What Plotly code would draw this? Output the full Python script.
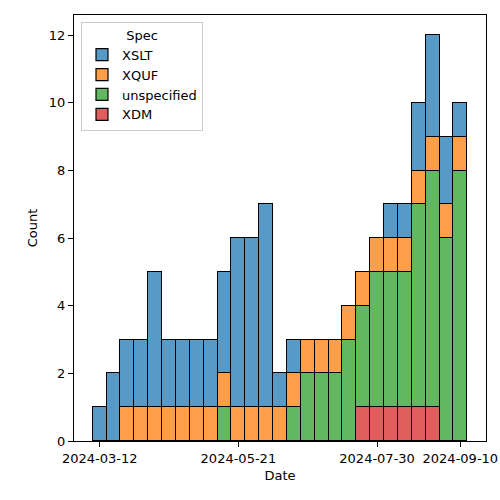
import datetime as dt
import plotly.graph_objects as go

weeks = ["2024-03-12", "2024-03-19", "2024-03-26", "2024-04-02", "2024-04-09", "2024-04-16",
         "2024-04-23", "2024-04-30", "2024-05-07", "2024-05-14", "2024-05-21", "2024-05-28",
         "2024-06-04", "2024-06-11", "2024-06-18", "2024-06-25", "2024-07-02", "2024-07-09",
         "2024-07-16", "2024-07-23", "2024-07-30", "2024-08-06", "2024-08-13", "2024-08-20",
         "2024-08-27", "2024-09-03", "2024-09-10"]
xslt = [1, 2, 2, 2, 4, 2, 2, 2, 2, 3, 5, 5, 6, 1, 1, 0, 0, 0, 0, 0, 0, 1, 1, 2, 3, 2, 1]
xquf = [0, 0, 1, 1, 1, 1, 1, 1, 1, 1, 1, 1, 1, 1, 1, 1, 1, 1, 1, 1, 1, 1, 1, 1, 1, 1, 1]
unspecified = [0, 0, 0, 0, 0, 0, 0, 0, 0, 1, 0, 0, 0, 0, 1, 2, 2, 2, 3, 3, 4, 4, 4, 6, 7, 6, 8]
xdm = [0, 0, 0, 0, 0, 0, 0, 0, 0, 0, 0, 0, 0, 0, 0, 0, 0, 0, 0, 1, 1, 1, 1, 1, 1, 0, 0]
tick_labels = ["2024-03-12", "2024-05-21", "2024-07-30", "2024-09-10"]

series = [("XDM", xdm, "#e05d5e"), ("unspecified", unspecified, "#61b861"),
          ("XQUF", xquf, "#ff9f4a"), ("XSLT", xslt, "#5799c7")]
rank = {"XSLT": 1, "XQUF": 2, "unspecified": 3, "XDM": 4}

week_ms = 7 * 24 * 3600 * 1000
fig = go.Figure()
for name, vals, col in series:
    fig.add_trace(go.Bar(
        x=weeks, y=[v if v else None for v in vals], name=name,
        width=[week_ms] * len(weeks),
        marker=dict(color=col, line=dict(color="black", width=1.2)),
        legendrank=rank[name],
    ))

d0 = dt.datetime(2024, 3, 12)
xr = [d0 - dt.timedelta(days=12.95), d0 + dt.timedelta(days=194.95)]

axis_common = dict(showline=True, linecolor="black", linewidth=1, mirror=True,
                   ticks="outside", ticklen=5, tickcolor="black", showgrid=False,
                   zeroline=False, automargin=False,
                   tickfont=dict(size=13, color="black"),
                   title_font=dict(size=13, color="black"))
fig.update_layout(
    width=500, height=500, barmode="stack", bargap=0,
    plot_bgcolor="white", paper_bgcolor="white",
    font=dict(family="DejaVu Sans", size=13, color="black"),
    margin=dict(l=74, r=14, t=15, b=59, autoexpand=False),
    xaxis=dict(range=xr, tickvals=tick_labels, ticktext=tick_labels, type="date",
               title=dict(text="Date", standoff=6), **axis_common),
    yaxis=dict(range=[0, 12.6], tickvals=list(range(0, 13, 2)),
               title=dict(text="Count", standoff=8), **axis_common),
    legend=dict(x=0.017, y=0.984, xanchor="left", yanchor="top",
                traceorder="normal",
                bgcolor="white", bordercolor="#cccccc", borderwidth=1,
                title=dict(text="Spec", side="top center", font=dict(size=13)),
                font=dict(size=13), tracegroupgap=0),
    showlegend=True,
)
fig.write_html("out.html", config={"displayModeBar": False},
               post_script="document.body.style.margin='0';")
